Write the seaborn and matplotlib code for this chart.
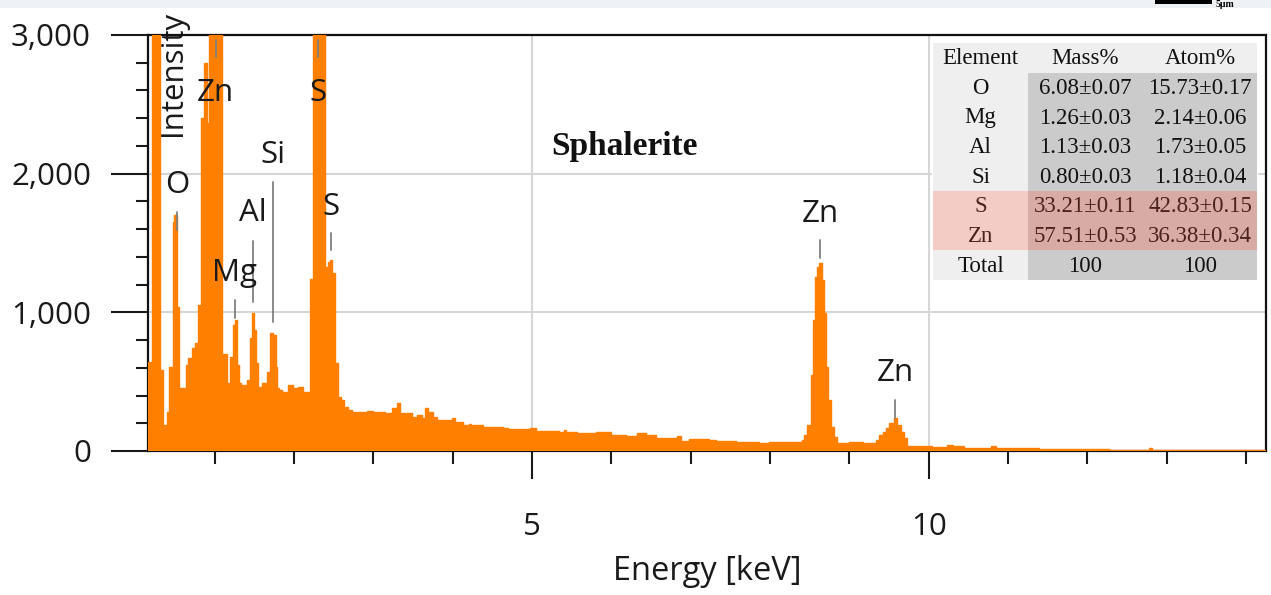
import numpy as np
import pandas as pd
import matplotlib
matplotlib.use("Agg")
import matplotlib.pyplot as plt
from matplotlib.ticker import MultipleLocator, FixedLocator, StrMethodFormatter
from matplotlib.patches import Rectangle
import seaborn as sns

# EDS spectrum: start energy of each channel group (keV) and its counts
channel_start_kev = [
    0.160, 0.207, 0.307, 0.345, 0.395, 0.421, 0.471, 0.484, 0.521, 0.547,
    0.634, 0.660, 0.710, 0.748, 0.786, 0.824, 0.861, 0.899, 0.924, 1.088,
    1.151, 1.189, 1.227, 1.252, 1.277, 1.302, 1.327, 1.403, 1.441, 1.466,
    1.491, 1.516, 1.542, 1.592, 1.655, 1.693, 1.730, 1.768, 1.787, 1.806,
    1.844, 1.919, 1.982, 2.045, 2.108, 2.196, 2.234, 2.385, 2.423, 2.448,
    2.473, 2.511, 2.549, 2.587, 2.625, 2.675, 2.725, 2.914, 2.990, 3.141,
    3.229, 3.292, 3.330, 3.481, 3.544, 3.607, 3.645, 3.683, 3.746, 3.796,
    3.985, 4.023, 4.124, 4.200, 4.225, 4.377, 4.628, 4.692, 4.969, 5.055,
    5.345, 5.400, 5.430, 5.572, 5.811, 6.000, 6.189, 6.328, 6.442, 6.567,
    6.831, 6.882, 6.982, 7.234, 7.322, 7.574, 7.864, 7.990, 8.405, 8.431,
    8.469, 8.519, 8.535, 8.565, 8.590, 8.620, 8.654, 8.683, 8.708, 8.733,
    8.767, 8.800, 8.838, 9.000, 9.174, 9.338, 9.376, 9.426, 9.463, 9.501,
    9.564, 9.602, 9.652, 9.690, 9.728, 10.043, 10.232, 10.300, 10.448, 10.788,
    10.850, 11.390, 11.806, 12.270, 12.770, 12.810,
]
channel_counts = [
    644, 6000, 584, 190, 280, 606, 1650, 1700, 1040, 454,
    620, 670, 743, 780, 1053, 2400, 2797, 2365, 4300, 700,
    490, 678, 908, 944, 620, 490, 476, 512, 815, 995,
    872, 634, 461, 490, 570, 851, 836, 606, 454, 440,
    425, 476, 454, 461, 425, 1240, 5200, 1327, 1363, 1377,
    1283, 634, 389, 368, 317, 296, 281, 288, 281, 274,
    310, 346, 274, 245, 260, 238, 310, 281, 245, 224,
    238, 209, 187, 195, 187, 173, 166, 159, 166, 144,
    137, 150, 137, 130, 137, 115, 108, 130, 115, 94,
    108, 72, 87, 79, 72, 65, 58, 65, 79, 115,
    187, 548, 944, 1255, 1327, 1355, 1233, 995, 606, 368,
    173, 101, 58, 62, 55, 79, 115, 137, 166, 202,
    238, 187, 137, 94, 36, 29, 43, 36, 22, 36,
    22, 18, 14, 4, 20, 4,
]
spectrum_end_kev = 14.25

# Quantification results
elements = ["O", "Mg", "Al", "Si", "S", "Zn"]
mass_pct = [6.08, 1.26, 1.13, 0.80, 33.21, 57.51]
mass_err = [0.07, 0.03, 0.03, 0.03, 0.11, 0.53]
atom_pct = [15.73, 2.14, 1.73, 1.18, 42.83, 36.38]
atom_err = [0.17, 0.06, 0.05, 0.04, 0.15, 0.34]
major_elements = ["S", "Zn"]

# Identified lines: name and energy (keV)
peak_names = ["O", "Zn", "Mg", "Al", "Si", "S", "S", "Zn", "Zn"]
peak_kev = [0.525, 1.012, 1.254, 1.487, 1.740, 2.307, 2.464, 8.630, 9.572]

# Label placement for each line: marker bottom, marker top, text centre (counts)
label_layout = [
    (1593, 1723, 1918),
    (2841, 2963, 2581),
    (959, 1089, 1283),
    (1074, 1514, 1716),
    (930, 1939, 2134),
    (2841, 2963, 2581),
    (1449, 1572, 1759),
    (1391, 1521, 1709),
    (238, 368, 562),
]

sns.set_theme(style="ticks")
plt.rcParams["font.family"] = ["Open Sans", "DejaVu Sans"]
plt.rcParams["text.color"] = "#1a1a1a"
plt.rcParams["axes.labelcolor"] = "#1a1a1a"
plt.rcParams["xtick.color"] = "#1a1a1a"
plt.rcParams["ytick.color"] = "#1a1a1a"

W, H = 1271, 595
fig = plt.figure(figsize=(W / 100, H / 100), dpi=100)
fig.patch.set_facecolor("white")
ax = fig.add_axes([148 / W, 1 - 451 / H, (1266 - 148) / W, (451 - 35) / H])

# Step outline of the spectrum (one point per channel edge) and its solid fill
spectrum = pd.DataFrame({
    "energy": list(channel_start_kev) + [spectrum_end_kev],
    "counts": list(channel_counts) + [channel_counts[-1]],
})
orange = "#ff8000"
ax.fill_between(spectrum["energy"], 0, spectrum["counts"], step="post",
                color=orange, linewidth=0, zorder=3)
sns.lineplot(data=spectrum, x="energy", y="counts", drawstyle="steps-post",
             estimator=None, sort=False, color=orange, linewidth=1.0, ax=ax, zorder=3)

ax.set_xlim(0.16, 14.25)
ax.set_ylim(0, 3000)
ax.xaxis.set_major_locator(FixedLocator([5, 10]))
ax.xaxis.set_minor_locator(FixedLocator([1, 2, 3, 4, 6, 7, 8, 9, 11, 12, 13, 14]))
ax.yaxis.set_major_locator(MultipleLocator(1000))
ax.yaxis.set_minor_locator(MultipleLocator(200))
ax.yaxis.set_major_formatter(StrMethodFormatter("{x:,.0f}"))
ax.tick_params(axis="y", which="major", length=27, width=1.5, labelsize=22.5, pad=14)
ax.tick_params(axis="y", which="minor", length=8.5, width=1.5, left=True)
ax.tick_params(axis="x", which="major", length=20, width=1.5, labelsize=22.5, pad=24)
ax.tick_params(axis="x", which="minor", length=9.5, width=1.5, bottom=True)
ax.grid(True, which="major", color="#d6d6d6", linewidth=1.5)
ax.set_axisbelow(True)
for side in ["left", "right", "top", "bottom"]:
    ax.spines[side].set_visible(True)
    ax.spines[side].set_color("#111111")
    ax.spines[side].set_linewidth(1.6)

ax.set_xlabel("Energy [keV]", fontsize=23.5)
ax.xaxis.set_label_coords(0.5, (451 - 572) / 416)
ax.xaxis.label.set_va("center")
ax.set_ylabel("Intensity", fontsize=22.5)
ax.yaxis.set_label_coords((173 - 148) / 1118, (451 - 73) / 416)
ax.yaxis.label.set_va("center")

ax.set_title("Sphalerite", x=0.426, y=0.713, va="center", fontsize=24,
             fontweight="bold", fontfamily="Liberation Serif", color="#111111")

# Line markers and element labels
for name, e, (lo, hi, ty) in zip(peak_names, peak_kev, label_layout):
    ax.plot([e, e], [lo, hi], color="#808080", linewidth=1.3, zorder=5)
    ax.text(e, ty, name, ha="center", va="center", fontsize=22.5, zorder=6)

# Overlay in pixel coordinates for the results table and the top strip
over = fig.add_axes([0, 0, 1, 1], zorder=10)
over.set_xlim(0, W)
over.set_ylim(H, 0)
over.axis("off")
over.patch.set_visible(False)

over.add_patch(Rectangle((0, 0), W, 8, color="#eef2f5", lw=0))
over.add_patch(Rectangle((1155, 0), 57, 3.5, color="black", lw=0))
over.text(1216, 7, "5μm", fontsize=7, fontweight="bold",
          fontfamily=["Liberation Serif", "DejaVu Serif"], va="baseline", ha="left", color="black")

over.add_patch(Rectangle((932, 37), 326, 253, color="white", lw=0))
col_x = [933, 1028, 1143, 1257]
top, row_h = 43, 29.6
rows = [("Element", "Mass%", "Atom%", "header")]
for el, m, me, a, ae in zip(elements, mass_pct, mass_err, atom_pct, atom_err):
    kind = "major" if el in major_elements else "minor"
    rows.append((el, f"{m:.2f}±{me:.2f}", f"{a:.2f}±{ae:.2f}", kind))
rows.append(("Total", f"{sum(mass_pct):.0f}", f"{sum(atom_pct):.0f}", "total"))

palette = {
    "header": ("#efefef", "#efefef", "#111111"),
    "minor": ("#efefef", "#cbcbcb", "#111111"),
    "major": ("#f2ccc5", "#d8aba4", "#4a221d"),
    "total": ("#efefef", "#cbcbcb", "#111111"),
}
for i, (c0, c1, c2, kind) in enumerate(rows):
    y0 = top + i * row_h
    first_bg, value_bg, fg = palette[kind]
    for j, txt in enumerate((c0, c1, c2)):
        bg = first_bg if j == 0 else value_bg
        over.add_patch(Rectangle((col_x[j], y0), col_x[j + 1] - col_x[j], row_h, color=bg, lw=0))
        over.text((col_x[j] + col_x[j + 1]) / 2, y0 + row_h / 2 + 1, txt, ha="center", va="center",
                  fontsize=16.5, fontfamily=["Liberation Serif", "DejaVu Serif"], color=fg)

fig.savefig("out.png", dpi=100)
